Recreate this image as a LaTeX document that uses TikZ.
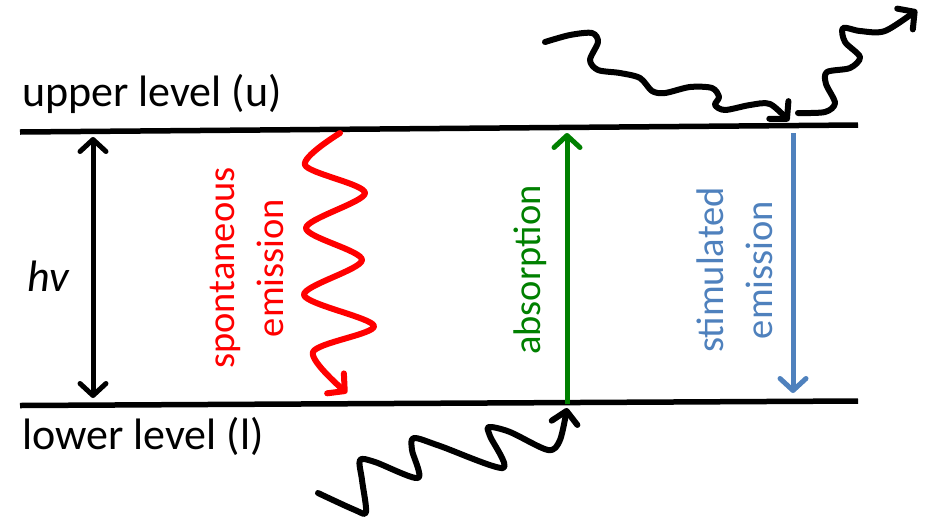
\documentclass[tikz,border=0pt]{standalone}
\usepackage{fontspec}
\setmainfont{Carlito}
\usetikzlibrary{arrows.meta}
\definecolor{absgreen}{RGB}{0,128,0}
\definecolor{stimblue}{RGB}{79,129,189}
\tikzset{
	level/.style={line width=5.5pt},
	barb/.style={-{Straight Barb[length=12pt,width=26pt,round]}},
	photon/.style={barb, line width=6pt, line cap=round, line join=round},
	transition/.style={barb, line width=5pt},
	bigtext/.style={font=\fontsize{44}{50}\selectfont, inner sep=0pt},
	sidetext/.style={font=\fontsize{38.5}{49}\selectfont, rotate=90, align=center, inner sep=0pt},
}
\begin{document}
\begin{tikzpicture}[x=1pt, y=-1pt]

		\useasboundingbox (0,0) rectangle (926,523);

		% define point

		\coordinate (UL) at (20,132);

		\coordinate (UR) at (858,125);

		\coordinate (LL) at (20,405.5);

		\coordinate (LR) at (858,401);

		\coordinate (hvtop) at (93,137);

		\coordinate (hvbot) at (93,398);

		\coordinate (abstop) at (567,133);

		\coordinate (absbot) at (567,404);

		\coordinate (stimtop) at (793,133);

		\coordinate (stimbot) at (793,393);

		% levels

		\draw[level] (UL) -- (UR);

		\draw[level] (LL) -- (LR);

		\node[bigtext, anchor=base west] (upper) at (22,106) {upper level (u)};

		\node[bigtext, anchor=base west] (lower) at (22,449) {lower level (l)};

		\node[bigtext, anchor=base west] (hv) at (27,291) {\textit{hv}};

		% transitions

		\draw[transition, {Straight Barb[length=12pt,width=26pt,round]}-{Straight Barb[length=12pt,width=26pt,round]}] (hvtop) -- (hvbot);

		\draw[transition, absgreen] (absbot) -- (abstop);

		\draw[transition, stimblue] (stimtop) -- (stimbot);

		\node[sidetext, text=red] (spont) at (247,268) {spontaneous\\emission};

		\node[sidetext, text=absgreen] (absorb) at (530,270) {absorption};

		\node[sidetext, text=stimblue] (stim) at (735,270) {stimulated\\emission};

		% photons

		\draw[photon, red] plot[smooth] coordinates {(340,133) (305,165) (365,193) (306,228) (362,260) (304,295) (374,326) (313,352) (347,393)};

		\draw[photon] plot[smooth] coordinates {(318,493) (355,510) (366,512) (362,480) (360,460) (375,462) (418,478) (412,450) (414,438) (440,446) (503,468) (490,436) (489,427) (510,432) (548,450) (560,440) (567,408)};

		\draw[photon] plot[smooth] coordinates {(545,42) (570,35) (592,33) (598,42) (590,60) (598,70) (620,73) (640,78) (652,91) (665,93) (690,87) (712,88) (719,97) (715,105) (725,110) (750,105) (770,104) (789,121)};

		\draw[photon] plot[smooth] coordinates {(798,113) (825,112) (835,103) (826,84) (827,72) (850,68) (860,57) (845,42) (843,28) (860,31) (885,31) (917,10)};

	\end{tikzpicture}
\end{document}
